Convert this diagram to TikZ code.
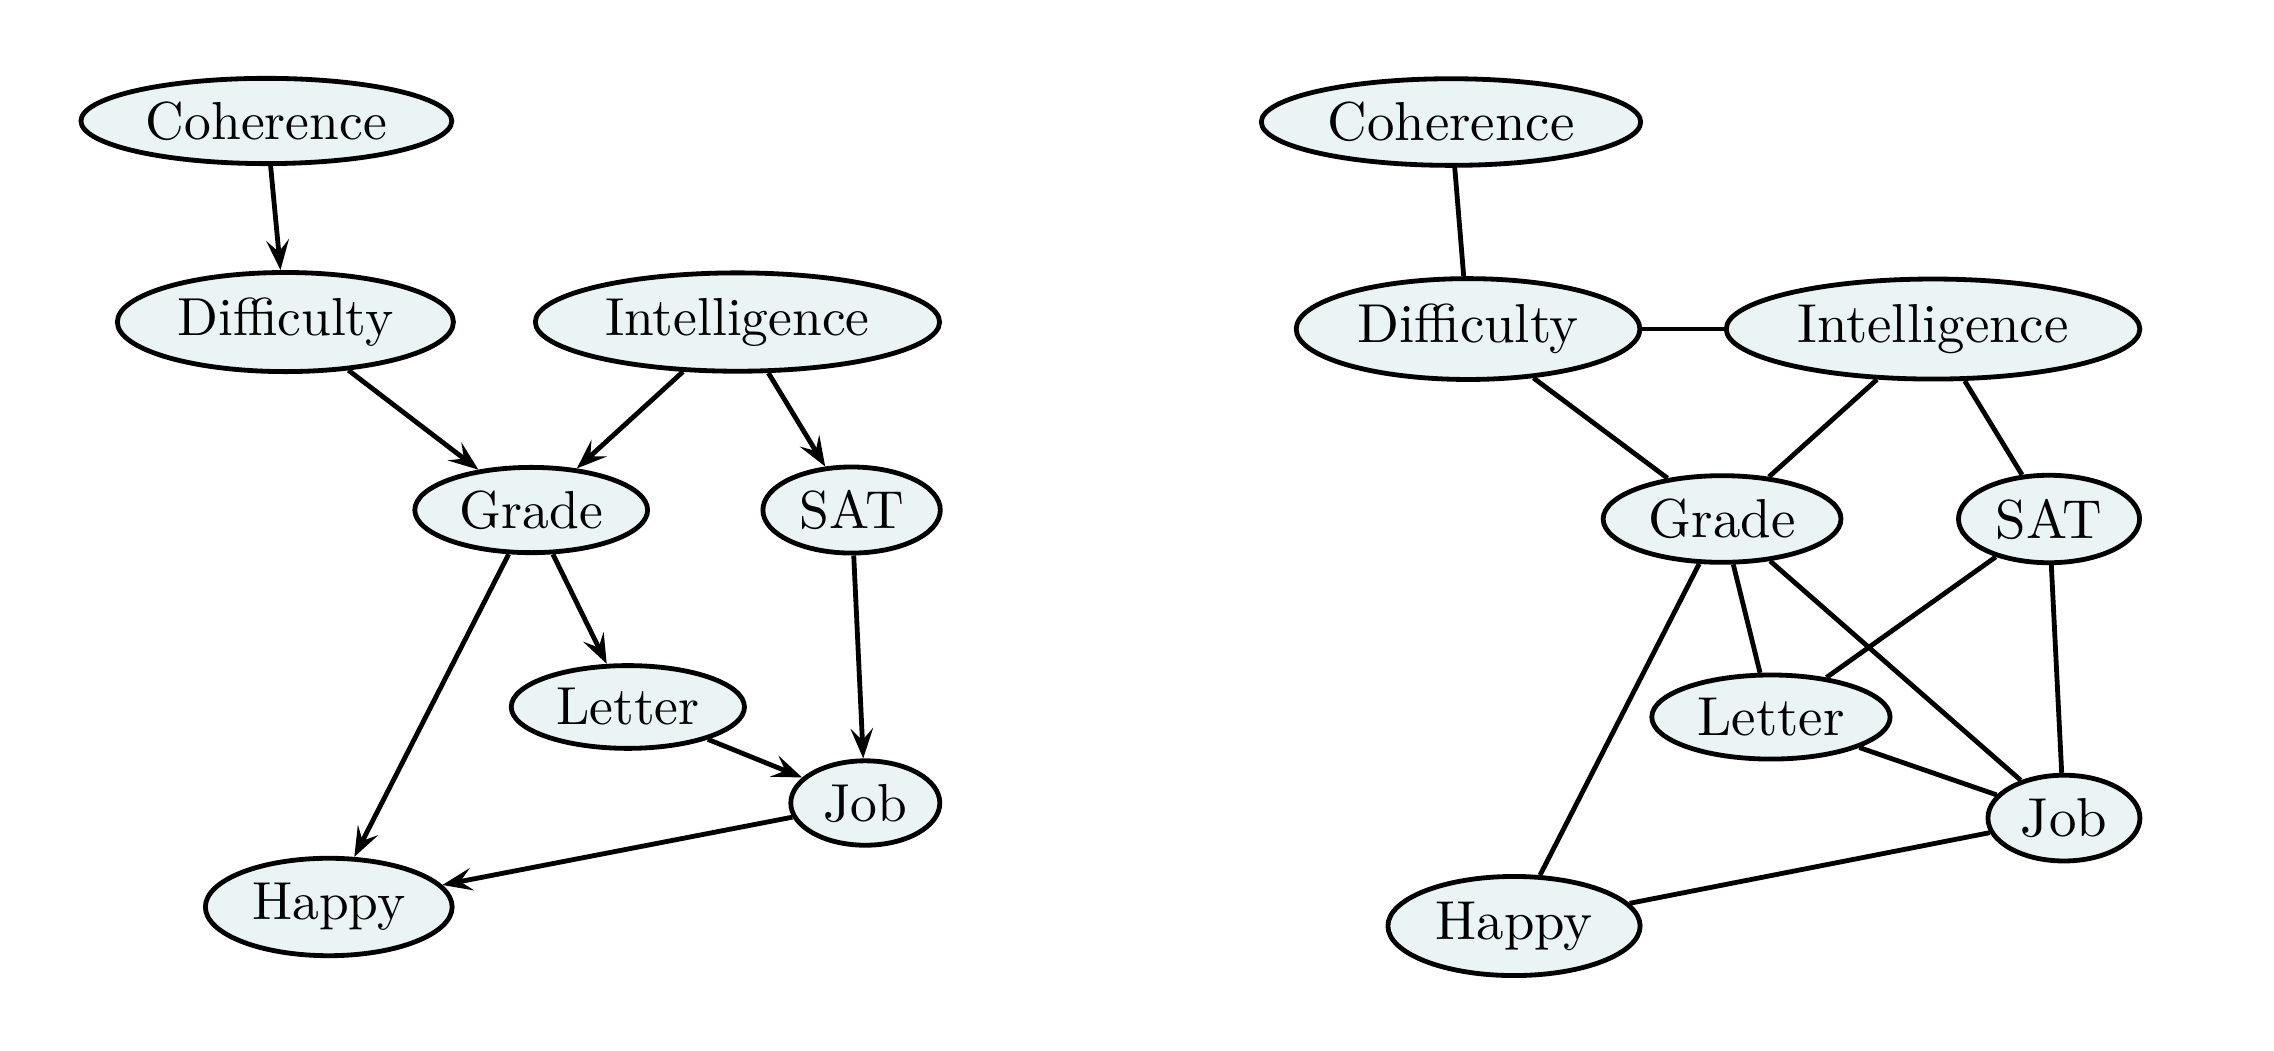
\documentclass[tikz,border=0pt]{standalone}
\usepackage{fontspec}
\usepackage{tikz}
\usetikzlibrary{shapes,arrows.meta}
\definecolor{nodefill}{RGB}{234,244,245}
\tikzset{var/.style={draw,ellipse,line width=0.9pt,fill=nodefill,inner sep=2pt}}
\tikzset{rvar/.style={var,font=\fontsize{10.25}{12}\selectfont}}
\tikzset{arr/.style={line width=0.9pt,-{Stealth[length=5.6pt,width=4.2pt,inset=2.2pt]}}}

\begin{document}
\begin{tikzpicture}
\useasboundingbox (0,0) rectangle (14.94,6.899);

% directed graph
\node[var] (lcoh) at (1.750,6.104) {Coherence};
\node[var] (ldif) at (1.875,4.783) {Difficulty};
\node[var] (lint) at (4.845,4.783) {Intelligence};
\node[var] (lgra) at (3.490,3.548) {Grade};
\node[var] (lsat) at (5.595,3.548) {SAT};
\node[var] (llet) at (4.125,2.254) {Letter};
\node[var] (ljob) at (5.685,1.623) {Job};
\node[var] (lhap) at (2.160,0.940) {Happy};

% moral graph
\node[rvar] (rcoh) at (9.533,6.097) {Coherence};
\node[rvar] (rdif) at (9.645,4.737) {Difficulty};
\node[rvar] (rint) at (12.700,4.737) {Intelligence};
\node[rvar] (rgra) at (11.314,3.489) {Grade};
\node[rvar] (rsat) at (13.462,3.489) {SAT};
\node[rvar] (rlet) at (11.635,2.188) {Letter};
\node[rvar] (rjob) at (13.560,1.524) {Job};
\node[rvar] (rhap) at (9.947,0.815) {Happy};

% Arrows
\draw[arr] (lcoh) edge (ldif)
    (ldif) edge (lgra)
    (lint) edge (lgra)
    (lint) edge (lsat)
    (lgra) edge (llet)
    (lgra) edge (lhap)
    (lsat) edge (ljob)
    (llet) edge (ljob)
    (ljob) edge (lhap)
    ;

% Lines
\draw[line width=0.9pt] (rcoh) edge (rdif)
    (rdif) edge (rint)
    (rdif) edge (rgra)
    (rint) edge (rgra)
    (rint) edge (rsat)
    (rgra) edge (rlet)
    (rgra) edge (rhap)
    (rgra) edge (rjob)
    (rsat) edge (rlet)
    (rsat) edge (rjob)
    (rlet) edge (rjob)
    (rjob) edge (rhap)
    ;
\end{tikzpicture}
\end{document}
